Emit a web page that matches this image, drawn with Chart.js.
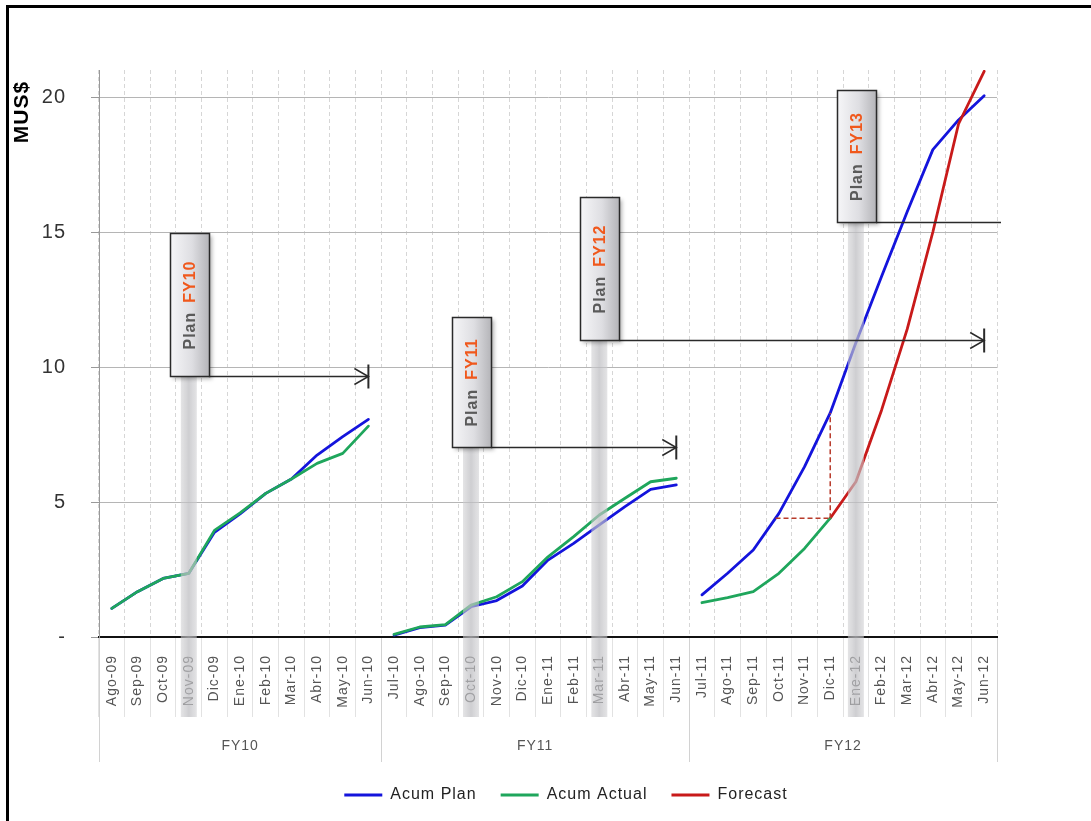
<!DOCTYPE html>
<html>
<head>
<meta charset="utf-8">
<script src="https://cdn.jsdelivr.net/npm/chart.js@4.4.1/dist/chart.umd.min.js"></script>
<style>
  html, body { margin: 0; padding: 0; background: #ffffff; }
  #wrap { width: 1091px; height: 821px; position: relative; }
</style>
</head>
<body>
<div id="wrap"><canvas id="c" width="1091" height="821"></canvas></div>
<script>
// ---------- DATA ----------
const months = [
  'Ago-09','Sep-09','Oct-09','Nov-09','Dic-09','Ene-10','Feb-10','Mar-10','Abr-10','May-10','Jun-10',
  'Jul-10','Ago-10','Sep-10','Oct-10','Nov-10','Dic-10','Ene-11','Feb-11','Mar-11','Abr-11','May-11','Jun-11',
  'Jul-11','Ago-11','Sep-11','Oct-11','Nov-11','Dic-11','Ene-12','Feb-12','Mar-12','Abr-12','May-12','Jun-12'
];
const fiscalYears = ['FY10', 'FY11', 'FY12'];
const fyStartIndex = [0, 11, 23];

const acumPlan = [
  1.06, 1.68, 2.17, 2.36, 3.88, 4.56, 5.32, 5.85, 6.74, 7.42, 8.06,
  0.07, 0.35, 0.44, 1.12, 1.35, 1.89, 2.85, 3.47, 4.15, 4.83, 5.47, 5.63,
  1.56, 2.36, 3.22, 4.58, 6.31, 8.30, 10.90, 13.35, 15.75, 18.05, 19.15, 20.05
];
const acumActual = [
  1.06, 1.68, 2.17, 2.36, 3.95, 4.60, 5.32, 5.85, 6.43, 6.80, 7.81,
  0.10, 0.37, 0.46, 1.18, 1.49, 2.05, 2.97, 3.72, 4.52, 5.14, 5.75, 5.88,
  1.27, 1.46, 1.68, 2.36, 3.28, 4.40, null, null, null, null, null, null
];
const forecast = [
  null, null, null, null, null, null, null, null, null, null, null,
  null, null, null, null, null, null, null, null, null, null, null, null,
  null, null, null, null, null, 4.40, 5.75, 8.40, 11.40, 15.00, 19.00, 20.95
];
const yTickValues = [0, 5, 10, 15, 20];

const planLabels = ['FY10', 'FY11', 'FY12', 'FY13'];
const planMonth  = ['Nov-09', 'Oct-10', 'Mar-11', 'Ene-12'];
const planValue  = [9.67, 7.05, 11.0, 15.36];
const planEnd    = ['Jun-10', 'Jun-11', 'Jun-12', null];
const lagMonth   = 'Dic-11';

// ---------- STYLE ----------
const FONT = "'Liberation Sans', Arial, sans-serif";
const BLUE = '#1414dc';
const GREEN = '#1fa65c';
const RED = '#c81a1a';
const boxHeightsPx = [143, 130, 143, 132];
const breakIdx = fyStartIndex.slice(1).map(i => i - 1);
const segColor = (c) => (ctx) => breakIdx.includes(ctx.p0DataIndex) ? 'rgba(0,0,0,0)' : c;

const overlay = {
  id: 'overlay',
  beforeUpdate(chart) { chart.ctx.letterSpacing = '1px'; },
  beforeDraw(chart) { chart.ctx.letterSpacing = '1px'; },
  afterLayout(chart) {
    const lg = chart.legend;
    if (!lg) return;
    const dx = 566 - (lg.left + lg.right) / 2;
    lg.left += dx; lg.right += dx;
    const dy = 763 - lg.top;
    lg.top += dy; lg.bottom += dy;
  },
  afterDatasetsDraw(chart) {
    const ctx = chart.ctx, x = chart.scales.x, y = chart.scales.y;
    const li = months.indexOf(lagMonth);
    const v = acumActual[li];
    // find where plan crosses the actual value in the same fiscal year
    let xs = x.getPixelForValue(li);
    for (let i = fyStartIndex[2]; i < li; i++) {
      if (acumPlan[i] <= v && acumPlan[i + 1] >= v) {
        const f = (v - acumPlan[i]) / (acumPlan[i + 1] - acumPlan[i]);
        xs = x.getPixelForValue(i) + f * (x.getPixelForValue(i + 1) - x.getPixelForValue(i));
        break;
      }
    }
    const xl = x.getPixelForValue(li);
    ctx.save();
    ctx.strokeStyle = '#b83a2a';
    ctx.lineWidth = 1.5;
    ctx.setLineDash([5, 3]);
    ctx.beginPath();
    ctx.moveTo(xs, y.getPixelForValue(v));
    ctx.lineTo(xl, y.getPixelForValue(v));
    ctx.moveTo(xl, y.getPixelForValue(v));
    ctx.lineTo(xl, y.getPixelForValue(acumPlan[li]));
    ctx.stroke();
    ctx.restore();
  },
  afterDraw(chart) {
    const ctx = chart.ctx, x = chart.scales.x, y = chart.scales.y;
    const ca = chart.chartArea;
    const half = (x.getPixelForValue(1) - x.getPixelForValue(0)) / 2;
    ctx.save();
    ctx.letterSpacing = '1px';

    // FY group separators and labels
    const bounds = fyStartIndex.concat([months.length]);
    ctx.strokeStyle = '#d2d2d2';
    ctx.lineWidth = 1;
    bounds.forEach(b => {
      const px = Math.round(x.getPixelForValue(b) - half) + 0.5;
      ctx.beginPath();
      ctx.moveTo(px, ca.bottom + 1);
      ctx.lineTo(px, 762);
      ctx.stroke();
    });
    ctx.fillStyle = '#555';
    ctx.font = '14px ' + FONT;
    ctx.textAlign = 'center';
    ctx.textBaseline = 'middle';
    fiscalYears.forEach((fy, k) => {
      const a = x.getPixelForValue(bounds[k]) - half;
      const b = x.getPixelForValue(bounds[k + 1]) - half;
      ctx.fillText(fy, (a + b) / 2, 746);
    });

    // grey bands under the plan boxes
    planMonth.forEach((m) => {
      const cx = x.getPixelForValue(months.indexOf(m));
      const k = planMonth.indexOf(m);
      const top = y.getPixelForValue(planValue[k]);
      const bottom = 717;
      const g = ctx.createLinearGradient(cx - 8, 0, cx + 8, 0);
      g.addColorStop(0, 'rgba(205,205,208,0.55)');
      g.addColorStop(0.5, 'rgba(190,190,194,0.75)');
      g.addColorStop(1, 'rgba(205,205,208,0.55)');
      ctx.fillStyle = g;
      ctx.fillRect(cx - 8, top, 16, bottom - top);
    });

    // arrows
    ctx.strokeStyle = '#2a2a2a';
    ctx.lineWidth = 1.5;
    planLabels.forEach((lab, k) => {
      const cx = x.getPixelForValue(months.indexOf(planMonth[k]));
      const py = Math.round(y.getPixelForValue(planValue[k])) + 0.5;
      const sx = cx + 20;
      const ex = planEnd[k] ? x.getPixelForValue(months.indexOf(planEnd[k])) : ca.right + 4;
      ctx.beginPath();
      ctx.moveTo(sx, py);
      ctx.lineTo(ex, py);
      ctx.stroke();
      if (planEnd[k]) {
        ctx.beginPath();
        ctx.moveTo(ex - 14, py - 8);
        ctx.lineTo(ex, py);
        ctx.lineTo(ex - 14, py + 8);
        ctx.stroke();
        ctx.save();
        ctx.lineWidth = 2;
        ctx.beginPath();
        ctx.moveTo(ex, py - 12);
        ctx.lineTo(ex, py + 12);
        ctx.stroke();
        ctx.restore();
      }
    });

    // plan boxes
    planLabels.forEach((lab, k) => {
      const cx = x.getPixelForValue(months.indexOf(planMonth[k]));
      const bottom = Math.round(y.getPixelForValue(planValue[k])) + 0.5;
      const h = boxHeightsPx[k];
      const left = Math.round(cx - 19) + 0.5;
      const w = 39;
      const top = bottom - h;
      const g = ctx.createLinearGradient(left, 0, left + w, 0);
      g.addColorStop(0, '#f6f6f8');
      g.addColorStop(0.55, '#dedee2');
      g.addColorStop(1, '#b4b4b8');
      ctx.save();
      ctx.shadowColor = 'rgba(0,0,0,0.3)';
      ctx.shadowBlur = 4;
      ctx.shadowOffsetX = 2;
      ctx.shadowOffsetY = 2;
      ctx.fillStyle = g;
      ctx.fillRect(left, top, w, h);
      ctx.restore();
      ctx.strokeStyle = '#2a2a2a';
      ctx.lineWidth = 1.5;
      ctx.strokeRect(left, top, w, h);

      ctx.save();
      ctx.translate(left + w / 2, top + h / 2);
      ctx.rotate(-Math.PI / 2);
      ctx.font = 'bold 16px ' + FONT;
      ctx.textBaseline = 'middle';
      ctx.textAlign = 'left';
      const wp = ctx.measureText('Plan').width;
      const wf = ctx.measureText(lab).width;
      const gap = 9;
      const start = -(wp + gap + wf) / 2;
      ctx.fillStyle = '#5a5a5a';
      ctx.fillText('Plan', start, 1);
      ctx.fillStyle = '#f0581c';
      ctx.fillText(lab, start + wp + gap, 1);
      ctx.restore();
    });

    // y axis title
    ctx.save();
    ctx.translate(22, 112);
    ctx.rotate(-Math.PI / 2);
    ctx.font = 'bold 21px ' + FONT;
    ctx.fillStyle = '#000';
    ctx.textAlign = 'center';
    ctx.textBaseline = 'middle';
    ctx.fillText('MUS$', 0, 0);
    ctx.restore();

    // frame
    ctx.fillStyle = '#000';
    ctx.fillRect(6, 5, 1085, 3);
    ctx.fillRect(6, 5, 3, 816);
    ctx.restore();
  }
};

new Chart(document.getElementById('c').getContext('2d'), {
  type: 'line',
  data: {
    labels: months,
    datasets: [
      { label: 'Acum Plan', data: acumPlan, borderColor: BLUE, backgroundColor: BLUE, order: 2,
        segment: { borderColor: segColor(BLUE) } },
      { label: 'Acum Actual', data: acumActual, borderColor: GREEN, backgroundColor: GREEN, order: 0,
        segment: { borderColor: segColor(GREEN) } },
      { label: 'Forecast', data: forecast, borderColor: RED, backgroundColor: RED, order: 1 }
    ]
  },
  options: {
    responsive: false,
    animation: false,
    layout: { padding: { left: 8, right: 94, top: 70, bottom: 8 } },
    elements: {
      line: { borderWidth: 2.8, tension: 0, borderCapStyle: 'round', borderJoinStyle: 'round' },
      point: { radius: 0, hoverRadius: 0 }
    },
    plugins: {
      tooltip: { enabled: false },
      legend: {
        position: 'bottom',
        labels: {
          font: { size: 16, family: FONT },
          color: '#222',
          boxWidth: 38,
          boxHeight: 3,
          padding: 24,
          generateLabels: (chart) => Chart.defaults.plugins.legend.labels.generateLabels(chart)
            .map(it => Object.assign(it, { lineWidth: 0 })),
          sort: (a, b) => a.datasetIndex - b.datasetIndex
        }
      }
    },
    scales: {
      x: {
        type: 'category',
        offset: true,
        grid: { offset: true, color: '#d6d6d6', lineWidth: 1, tickLength: 80, tickColor: '#e2e2e2', tickWidth: 1 },
        border: { color: '#111', width: 2, dash: [4, 3] },
        ticks: { autoSkip: false, minRotation: 90, maxRotation: 90, padding: -62,
                 font: { size: 14, family: FONT }, color: '#555' },
        afterFit: (s) => { s.height = 126; }
      },
      y: {
        min: 0,
        max: 21,
        afterBuildTicks: (s) => { s.ticks = yTickValues.map(v => ({ value: v })); },
        grid: { color: '#b5b5b5', lineWidth: 1, tickLength: 8, tickColor: '#999' },
        border: { color: '#999', width: 1 },
        ticks: { padding: 25, font: { size: 20, family: FONT }, color: '#333',
                 callback: (v) => v === 0 ? '-' : v },
        afterFit: (s) => { s.width = 91; }
      }
    }
  },
  plugins: [overlay]
});
</script>
</body>
</html>
